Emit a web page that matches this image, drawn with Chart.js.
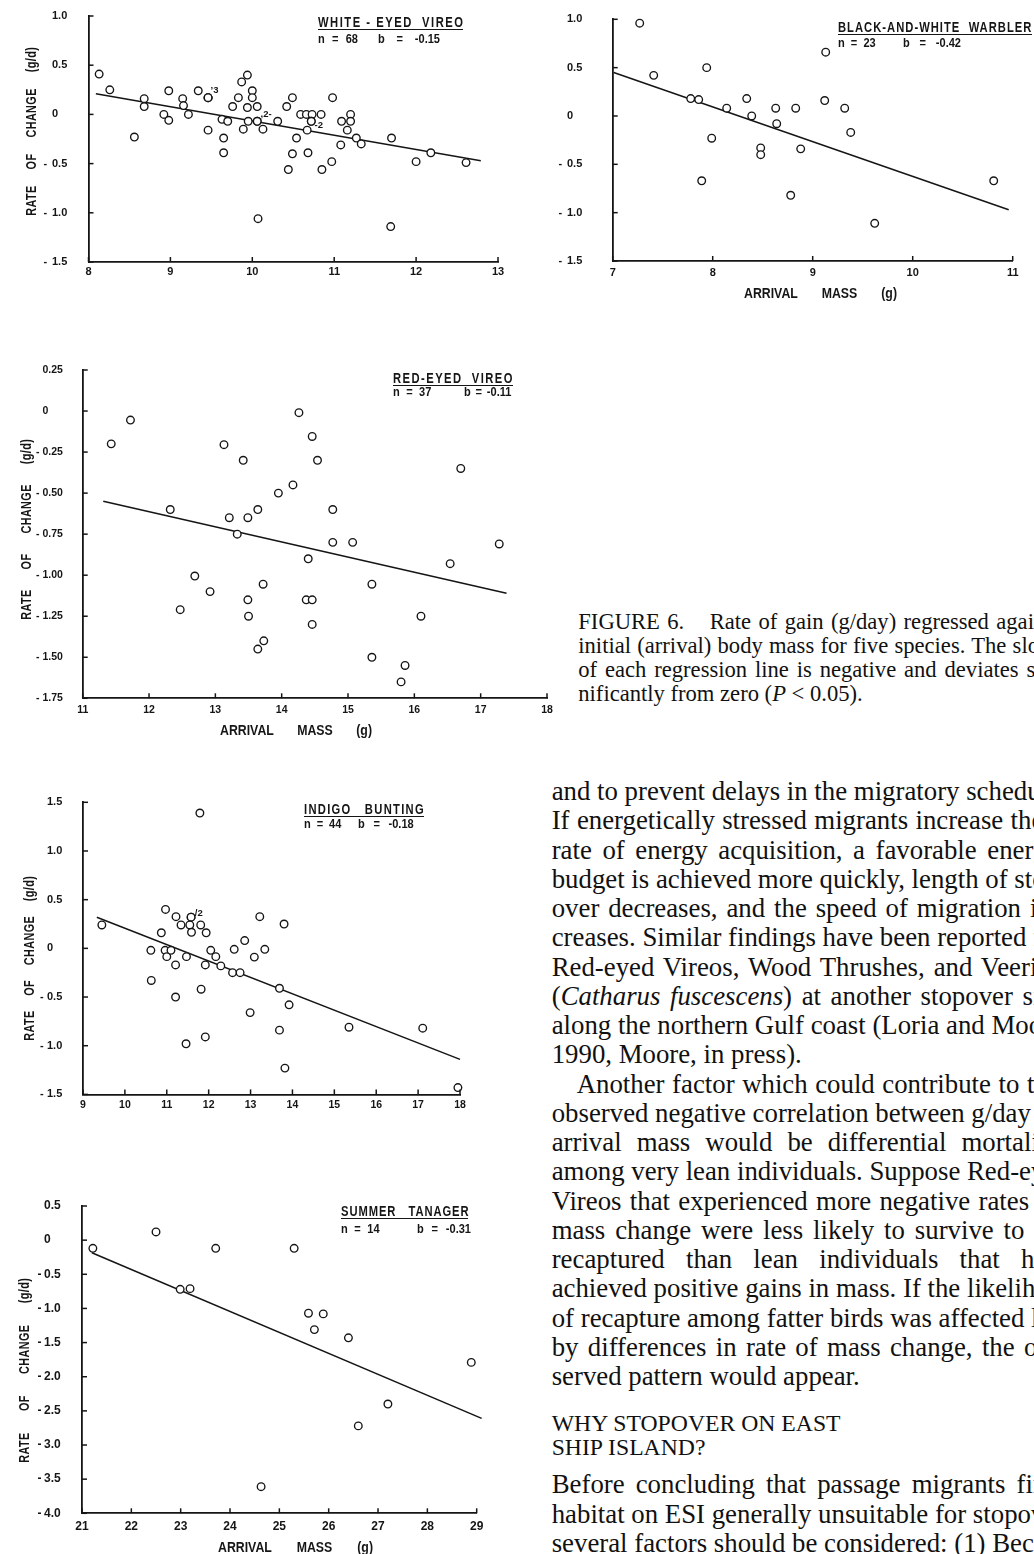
<!DOCTYPE html>
<html>
<head>
<meta charset="utf-8">
<script src="https://cdn.jsdelivr.net/npm/chart.js@4.4.1/dist/chart.umd.min.js"></script>
<style>
html,body{margin:0;padding:0;background:#fff;}
#page{position:relative;width:1034px;height:1554px;overflow:hidden;background:#fff;}
canvas{position:absolute;}
.lab{position:absolute;font-family:"Liberation Sans",Arial,sans-serif;font-weight:bold;color:#151515;white-space:pre;}
.uline{position:absolute;height:0;border-top:1.2px solid #151515;}
.txt{position:absolute;font-family:"Liberation Serif","Times New Roman",serif;color:#111;}
.txt div{white-space:nowrap;}
.j{text-align:justify;text-align-last:justify;}
</style>
</head>
<body>
<div id="page">
  <canvas id="c1"></canvas>
  <canvas id="c2"></canvas>
  <canvas id="c3"></canvas>
  <canvas id="c4"></canvas>
  <canvas id="c5"></canvas>

  <div class="txt" style="left:578.3px;top:609.6px;width:482px;font-size:22.6px;line-height:24.1px;">
    <div class="j"><span style="margin-right:18px">FIGURE 6.</span> Rate of gain (g/day) regressed against</div>
    <div class="j">initial (arrival) body mass for five species. The slope</div>
    <div class="j">of each regression line is negative and deviates sig-</div>
    <div>nificantly from zero (<i>P</i> &lt; 0.05).</div>
  </div>

  <div class="txt" style="left:551.7px;top:777px;width:508px;font-size:26.8px;line-height:29.25px;">
    <div class="j">and to prevent delays in the migratory schedule.</div>
    <div class="j">If energetically stressed migrants increase their</div>
    <div class="j">rate of energy acquisition, a favorable energy</div>
    <div class="j">budget is achieved more quickly, length of stop-</div>
    <div class="j">over decreases, and the speed of migration in-</div>
    <div class="j">creases. Similar findings have been reported for</div>
    <div class="j">Red-eyed Vireos, Wood Thrushes, and Veeries</div>
    <div class="j">(<i>Catharus fuscescens</i>) at another stopover site</div>
    <div class="j">along the northern Gulf coast (Loria and Moore</div>
    <div>1990, Moore, in press).</div>
    <div class="j" style="text-indent:25px">Another factor which could contribute to the</div>
    <div class="j">observed negative correlation between g/day and</div>
    <div class="j">arrival mass would be differential mortality</div>
    <div class="j">among very lean individuals. Suppose Red-eyed</div>
    <div class="j">Vireos that experienced more negative rates of</div>
    <div class="j">mass change were less likely to survive to be</div>
    <div class="j">recaptured than lean individuals that had</div>
    <div class="j">achieved positive gains in mass. If the likelihood</div>
    <div class="j">of recapture among fatter birds was affected less</div>
    <div class="j">by differences in rate of mass change, the ob-</div>
    <div>served pattern would appear.</div>
  </div>

  <div class="txt" style="left:551.7px;top:1410.5px;font-size:23.7px;line-height:24.3px;">
    <div>WHY STOPOVER ON EAST</div>
    <div>SHIP ISLAND?</div>
  </div>

  <div class="txt" style="left:551.7px;top:1470.3px;width:508px;font-size:26.8px;line-height:29.25px;">
    <div class="j">Before concluding that passage migrants find</div>
    <div class="j">habitat on ESI generally unsuitable for stopover,</div>
    <div class="j">several factors should be considered: (1) Because</div>
  </div>
</div>

<script>
// ================= DATA =================
// White-eyed Vireo
const whiteEyedMass = [8.13,8.26,8.68,8.68,8.56,8.92,8.98,8.98,9.15,9.16,9.22,9.34,9.46,9.46,9.46,9.46,9.63,9.70,9.65,9.65,9.76,9.83,9.87,9.94,9.94,9.95,9.89,10.00,10.00,10.06,10.06,10.06,10.07,10.13,10.31,10.42,10.49,10.54,10.49,10.44,10.59,10.66,10.73,10.72,10.72,10.84,10.67,10.68,10.85,10.98,10.97,11.09,11.20,11.20,11.16,11.08,11.27,11.33,11.70,11.69,12.00,12.18,12.61];
const whiteEyedRate = [0.41,0.25,0.16,0.08,-0.23,0.00,-0.06,0.24,0.16,0.09,0.00,0.24,0.17,0.17,0.17,-0.16,-0.05,-0.07,-0.24,-0.39,0.08,0.17,0.33,0.40,0.07,-0.07,-0.15,0.24,0.17,0.08,-0.07,-0.07,-1.06,-0.15,-0.07,0.08,0.17,-0.24,-0.40,-0.56,0.00,0.00,0.00,-0.07,-0.07,0.00,-0.16,-0.39,-0.56,0.17,-0.48,-0.07,0.00,-0.07,-0.16,-0.31,-0.24,-0.30,-0.24,-1.14,-0.48,-0.39,-0.49];
const whiteEyedFitMass = [8.09, 12.79];
const whiteEyedFitRate = [0.21, -0.47];
const whiteEyedXTicks = [8, 9, 10, 11, 12, 13];
const whiteEyedXLabels = ['8', '9', '10', '11', '12', '13'];
const whiteEyedYTicks = [1.0, 0.5, 0, -0.5, -1.0, -1.5];
const whiteEyedYLabels = ['1.0', '0.5', '0', '-0.5', '-1.0', '-1.5'];
const whiteEyedNoteMass = [9.49, 10.10, 10.76];
const whiteEyedNoteRate = [0.245, 0.005, -0.11];
const whiteEyedNoteText = ['\u02BC3', ',2-', '-2'];

// Black-and-white Warbler
const bwMass = [7.27,7.41,7.94,7.78,7.86,8.14,8.34,8.39,7.99,7.89,8.48,8.48,8.63,8.64,8.83,8.88,8.78,9.13,9.12,9.32,9.38,9.62,10.81];
const bwRate = [0.96,0.42,0.50,0.18,0.17,0.08,0.18,0.00,-0.23,-0.67,-0.33,-0.40,0.08,-0.08,0.08,-0.34,-0.82,0.66,0.16,0.08,-0.17,-1.11,-0.67];
const bwFitMass = [7.01, 10.96];
const bwFitRate = [0.45, -0.97];
const bwXTicks = [7, 8, 9, 10, 11];
const bwXLabels = ['7', '8', '9', '10', '11'];
const bwYTicks = [1.0, 0.5, 0, -0.5, -1.0, -1.5];
const bwYLabels = ['1.0', '0.5', '0', '-0.5', '-1.0', '-1.5'];

// Red-eyed Vireo
const redEyedMass = [11.43,11.72,12.32,12.47,12.69,12.92,13.13,13.21,13.33,13.42,13.49,13.49,13.50,13.64,13.72,13.64,13.73,13.95,14.17,14.26,14.46,14.54,14.77,14.77,15.07,14.40,14.37,14.46,14.46,15.36,15.36,15.86,15.80,16.10,16.54,16.70,17.28];
const redEyedRate = [-0.20,-0.055,-0.60,-1.21,-1.005,-1.10,-0.205,-0.65,-0.75,-0.30,-0.65,-1.15,-1.25,-0.60,-1.055,-1.45,-1.40,-0.50,-0.45,-0.01,-0.155,-0.30,-0.60,-0.80,-0.80,-0.90,-1.15,-1.15,-1.30,-1.055,-1.50,-1.55,-1.65,-1.25,-0.93,-0.35,-0.81];
const redEyedFitMass = [11.31, 17.39];
const redEyedFitRate = [-0.55, -1.11];
const redEyedXTicks = [11, 12, 13, 14, 15, 16, 17, 18];
const redEyedXLabels = ['11', '12', '13', '14', '15', '16', '17', '18'];
const redEyedYTicks = [0.25, 0, -0.25, -0.50, -0.75, -1.00, -1.25, -1.50, -1.75];
const redEyedYLabels = ['0.25', '0', '-0.25', '-0.50', '-0.75', '-1.00', '-1.25', '-1.50', '-1.75'];

// Indigo Bunting
const indigoMass = [9.45,10.62,10.63,10.87,10.97,10.96,11.00,11.10,11.22,11.21,11.21,11.34,11.47,11.46,11.58,11.58,11.55,11.59,11.81,11.94,11.82,11.92,11.92,12.05,12.17,12.29,12.57,12.75,12.61,12.86,13.09,13.22,13.34,12.99,13.69,13.92,13.69,13.80,13.82,15.35,17.11,11.79,17.95];
const indigoRate = [0.24,-0.02,-0.33,0.16,0.40,-0.02,-0.085,-0.02,0.325,-0.17,-0.50,0.24,-0.085,-0.98,0.32,0.32,0.24,0.165,0.24,0.16,-0.42,-0.17,-0.91,-0.02,-0.085,-0.18,-0.25,-0.25,-0.01,0.08,-0.09,0.325,-0.01,-0.66,-0.41,-0.58,-0.84,0.25,-1.23,-0.81,-0.82,1.39,-1.43];
const indigoFitMass = [9.33, 18.0];
const indigoFitRate = [0.32, -1.14];
const indigoXTicks = [9, 10, 11, 12, 13, 14, 15, 16, 17, 18];
const indigoXLabels = ['9', '10', '11', '12', '13', '14', '15', '16', '17', '18'];
const indigoYTicks = [1.5, 1.0, 0.5, 0, -0.5, -1.0, -1.5];
const indigoYLabels = ['1.5', '1.0', '0.5', '0', '-0.5', '-1.0', '-1.5'];
const indigoNoteMass = [11.67];
const indigoNoteRate = [0.36];
const indigoNoteText = ['/2'];

// Summer Tanager
const tanagerMass = [21.22,22.50,22.99,23.19,23.71,24.63,25.30,25.59,25.89,25.71,26.40,26.60,27.20,28.89];
const tanagerRate = [-0.12,0.12,-0.72,-0.71,-0.12,-3.61,-0.12,-1.07,-1.08,-1.31,-1.43,-2.72,-2.40,-1.79];
const tanagerFitMass = [21.20, 29.10];
const tanagerFitRate = [-0.185, -2.61];
const tanagerXTicks = [21, 22, 23, 24, 25, 26, 27, 28, 29];
const tanagerXLabels = ['21', '22', '23', '24', '25', '26', '27', '28', '29'];
const tanagerYTicks = [0.5, 0, -0.5, -1.0, -1.5, -2.0, -2.5, -3.0, -3.5, -4.0];
const tanagerYLabels = ['0.5', '0', '-0.5', '-1.0', '-1.5', '-2.0', '-2.5', '-3.0', '-3.5', '-4.0'];

// ================= STYLE / LAYOUT =================
const INK = '#151515';
const SANS = '"Liberation Sans", Arial, sans-serif';

const decor = {
  id: 'decor',
  afterDraw(chart, args, o) {
    const {ctx, chartArea: a} = chart;
    const xs = chart.scales.x, ys = chart.scales.y;
    ctx.save();
    ctx.strokeStyle = INK; ctx.lineWidth = 1.5;
    o.yTicks.forEach(v => {
      const py = ys.getPixelForValue(v);
      ctx.beginPath(); ctx.moveTo(a.left, py); ctx.lineTo(a.left + 5, py); ctx.stroke();
    });
    o.xTicks.forEach(v => {
      const px = xs.getPixelForValue(v);
      ctx.beginPath(); ctx.moveTo(px, a.bottom); ctx.lineTo(px, a.bottom - 5); ctx.stroke();
    });
    ctx.fillStyle = INK;
    // y tick labels with hanging minus
    ctx.font = 'bold ' + o.yFont + 'px ' + SANS;
    ctx.textBaseline = 'middle'; ctx.textAlign = 'left';
    o.yTicks.forEach((v, i) => {
      const lab = o.yLabels[i];
      const py = ys.getPixelForValue(v);
      if (lab[0] === '-') {
        ctx.fillText('-', o.digitX - o.hang, py);
        ctx.fillText(lab.slice(1), o.digitX, py);
      } else {
        ctx.fillText(lab, o.digitX, py);
      }
    });
    // x tick labels
    ctx.font = 'bold ' + o.xFont + 'px ' + SANS;
    ctx.textAlign = 'center';
    o.xTicks.forEach((v, i) => {
      ctx.fillText(o.xLabels[i], xs.getPixelForValue(v), a.bottom + o.xOff);
    });
    // multiplicity notes
    if (o.noteMass) {
      ctx.font = 'bold 9.5px ' + SANS;
      ctx.textAlign = 'left';
      o.noteMass.forEach((m, i) => {
        ctx.fillText(o.noteText[i], xs.getPixelForValue(m), ys.getPixelForValue(o.noteRate[i]));
      });
    }
    ctx.restore();
  }
};

const panels = [
  {id:'c1', left:0, top:0, w:520, h:290, pad:{left:88.5, top:16, right:22, bottom:28},
   xMin:8, xMax:13, yMin:-1.5, yMax:1.0, mass:whiteEyedMass, rate:whiteEyedRate,
   fitMass:whiteEyedFitMass, fitRate:whiteEyedFitRate, xTicks:whiteEyedXTicks, xLabels:whiteEyedXLabels,
   yTicks:whiteEyedYTicks, yLabels:whiteEyedYLabels, xFont:11, xOff:10, yFont:11, digitX:52, hang:8.5,
   noteMass:whiteEyedNoteMass, noteRate:whiteEyedNoteRate, noteText:whiteEyedNoteText},
  {id:'c2', left:530, top:0, w:504, h:290, pad:{left:82.7, top:19.3, right:21.3, bottom:29},
   xMin:7, xMax:11, yMin:-1.5, yMax:1.0, mass:bwMass, rate:bwRate,
   fitMass:bwFitMass, fitRate:bwFitRate, xTicks:bwXTicks, xLabels:bwXLabels,
   yTicks:bwYTicks, yLabels:bwYLabels, xFont:11, xOff:11.7, yFont:11, digitX:37, hang:8.5},
  {id:'c3', left:0, top:350, w:560, h:375, pad:{left:82.7, top:20, right:13, bottom:26.7},
   xMin:11, xMax:18, yMin:-1.75, yMax:0.25, mass:redEyedMass, rate:redEyedRate,
   fitMass:redEyedFitMass, fitRate:redEyedFitRate, xTicks:redEyedXTicks, xLabels:redEyedXLabels,
   yTicks:redEyedYTicks, yLabels:redEyedYLabels, xFont:10.5, xOff:11.7, yFont:10.5, digitX:42.5, hang:6.5},
  {id:'c4', left:0, top:780, w:500, h:340, pad:{left:83, top:22.3, right:40, bottom:25.6},
   xMin:9, xMax:18, yMin:-1.5, yMax:1.5, mass:indigoMass, rate:indigoRate,
   fitMass:indigoFitMass, fitRate:indigoFitRate, xTicks:indigoXTicks, xLabels:indigoXLabels,
   yTicks:indigoYTicks, yLabels:indigoYLabels, xFont:10.5, xOff:10.6, yFont:11, digitX:47, hang:7,
   noteMass:indigoNoteMass, noteRate:indigoNoteRate, noteText:indigoNoteText},
  {id:'c5', left:0, top:1190, w:500, h:350, pad:{left:82, top:16, right:23.3, bottom:26.7},
   xMin:21, xMax:29, yMin:-4.0, yMax:0.5, mass:tanagerMass, rate:tanagerRate,
   fitMass:tanagerFitMass, fitRate:tanagerFitRate, xTicks:tanagerXTicks, xLabels:tanagerXLabels,
   yTicks:tanagerYTicks, yLabels:tanagerYLabels, xFont:12, xOff:13.7, yFont:12, digitX:44, hang:6.5}
];

function build(p) {
  const cv = document.getElementById(p.id);
  cv.width = p.w; cv.height = p.h;
  cv.style.left = p.left + 'px'; cv.style.top = p.top + 'px';
  cv.style.width = p.w + 'px'; cv.style.height = p.h + 'px';
  const pts = p.mass.map((m, i) => ({x: m, y: p.rate[i]}));
  const fit = p.fitMass.map((m, i) => ({x: m, y: p.fitRate[i]}));
  const axisCommon = {
    grid: {display: true, drawOnChartArea: false, drawTicks: false},
    border: {display: true, color: INK, width: 1.8},
    ticks: {display: false}
  };
  new Chart(cv, {
    type: 'scatter',
    data: {datasets: [
      {type: 'line', data: fit, borderColor: INK, borderWidth: 1.5, pointRadius: 0,
       fill: false, tension: 0, order: 2, clip: 12},
      {type: 'scatter', data: pts, pointStyle: 'circle', pointRadius: 3.8, radius: 3.8,
       borderWidth: 1.35, pointBorderWidth: 1.35, borderColor: INK, pointBorderColor: INK,
       backgroundColor: '#fff', pointBackgroundColor: '#fff', order: 1, clip: 12}
    ]},
    options: {
      responsive: false, animation: false, devicePixelRatio: 1,
      layout: {padding: p.pad},
      plugins: {
        legend: {display: false}, tooltip: {enabled: false},
        decor: {yTicks: p.yTicks, yLabels: p.yLabels, xTicks: p.xTicks, xLabels: p.xLabels,
                yFont: p.yFont, xFont: p.xFont, xOff: p.xOff,
                digitX: p.digitX, hang: p.hang, noteMass: p.noteMass, noteRate: p.noteRate, noteText: p.noteText}
      },
      scales: {
        x: Object.assign({
          type: 'linear', min: p.xMin, max: p.xMax,
          afterFit: s => { s.height = 0; }
        }, axisCommon),
        y: Object.assign({
          type: 'linear', min: p.yMin, max: p.yMax,
          afterFit: s => { s.width = 0; }
        }, axisCommon)
      }
    },
    plugins: [decor]
  });
}
panels.forEach(build);

// ================= TEXT LABELS =================
const page = document.getElementById('page');
function mk(text, fs) {
  const d = document.createElement('div');
  d.className = 'lab';
  d.textContent = text;
  d.style.fontSize = fs + 'px';
  d.style.lineHeight = fs + 'px';
  page.appendChild(d);
  return d;
}
function label(text, x, base, fs, span, s, mode) {
  const d = mk(text, fs);
  d.style.left = x + 'px';
  d.style.top = (base - 0.8465 * fs) + 'px';
  const nat = d.getBoundingClientRect().width;
  if (span) {
    const need = span / s - nat;
    if (mode === 'ws') {
      const n = (text.match(/ /g) || []).length || 1;
      d.style.wordSpacing = (need / n) + 'px';
    } else {
      d.style.letterSpacing = (need / Math.max(1, text.length - 1)) + 'px';
    }
  }
  d.style.transformOrigin = '0 0';
  d.style.transform = 'scaleX(' + s + ')';
  return d;
}
function yTitle(text, cx, cy, fs, span, s) {
  const d = mk(text, fs);
  d.style.letterSpacing = '0.5px';
  const nat = d.getBoundingClientRect().width;
  const n = (text.match(/ /g) || []).length;
  d.style.wordSpacing = ((span / s - nat) / n) + 'px';
  const w = d.getBoundingClientRect().width;
  d.style.left = (cx - w / 2) + 'px';
  d.style.top = (cy - fs / 2) + 'px';
  d.style.transformOrigin = '50% 50%';
  d.style.transform = 'rotate(-90deg) scaleX(' + s + ')';
}
function uline(x, y, w) {
  const d = document.createElement('div');
  d.className = 'uline';
  d.style.left = x + 'px'; d.style.top = y + 'px'; d.style.width = w + 'px';
  page.appendChild(d);
}

const speciesNames = ['WHITE - EYED  VIREO', 'BLACK-AND-WHITE  WARBLER', 'RED-EYED  VIREO', 'INDIGO   BUNTING', 'SUMMER   TANAGER'];
const speciesN = ['n = 68', 'n = 23', 'n = 37', 'n = 44', 'n = 14'];
const speciesB = ['b = -0.15', 'b = -0.42', 'b = -0.11', 'b = -0.18', 'b = -0.31'];
const speciesPos = [
  {x:318, span:145, base:27.3, ul:29.3, base2:42.7, nSpan:40, bx:378, bSpan:62},
  {x:838.3, span:193.4, base:31.7, ul:33.7, base2:46.7, nSpan:37.7, bx:902.7, bSpan:58},
  {x:393.3, span:119.4, base:382.7, ul:384.5, base2:396, nSpan:38.4, bx:464.3, bSpan:47.4},
  {x:304.3, span:119.7, base:814, ul:816, base2:828.3, nSpan:37.4, bx:358.3, bSpan:55.7},
  {x:340.7, span:127.6, base:1216, ul:1217.5, base2:1232.7, nSpan:38.6, bx:416.7, bSpan:54}
];
speciesPos.forEach((q, i) => {
  label(speciesNames[i], q.x, q.base, 14, q.span, 0.8, 'ls');
  uline(q.x, q.ul, q.span);
  label(speciesN[i], q.x, q.base2, 13, q.nSpan, 0.85, 'ws');
  label(speciesB[i], q.bx, q.base2, 13, q.bSpan, 0.85, 'ws');
});

const yTitleText = 'RATE OF CHANGE (g/d)';
yTitle(yTitleText, 32, 131.5, 14.5, 169, 0.75);
yTitle(yTitleText, 26.5, 529.5, 14.5, 181, 0.75);
yTitle(yTitleText, 28.5, 958, 14.5, 165, 0.75);
yTitle(yTitleText, 24, 1370, 14.5, 185, 0.75);

const xTitleText = 'ARRIVAL MASS (g)';
label(xTitleText, 744, 298, 14, 153, 0.88, 'ws');
label(xTitleText, 220, 735, 14, 152, 0.88, 'ws');
label(xTitleText, 218, 1551.5, 14, 155, 0.88, 'ws');
</script>
</body>
</html>
